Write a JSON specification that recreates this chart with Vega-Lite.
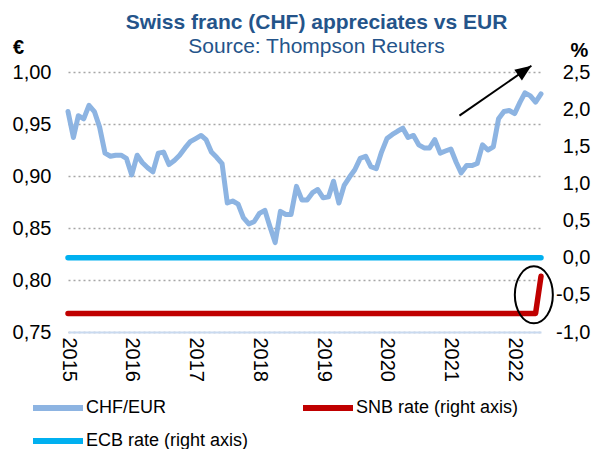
{
  "$schema": "https://vega.github.io/schema/vega-lite/v6.json",
  "width": 473,
  "height": 260,
  "padding": {"left": 12, "top": 12, "right": 11, "bottom": 0},
  "config": {
    "view": {"stroke": null},
    "font": "Liberation Sans",
    "locale": {"number": {"decimal": ",", "thousands": ".", "grouping": [3], "currency": ["", " €"], "minus": "-"}},
    "axis": {"labelFont": "Liberation Sans", "labelFontSize": 20, "labelColor": "#000000", "ticks": false, "domain": false, "grid": false, "titleFont": "Liberation Sans", "titleFontSize": 20, "titleColor": "#000000", "titleFontWeight": "bold"},
    "legend": {"labelFont": "Liberation Sans"}
  },
  "title": {
    "text": "Swiss franc (CHF) appreciates vs EUR",
    "subtitle": "Source: Thompson Reuters",
    "font": "Liberation Sans",
    "subtitleFont": "Liberation Sans",
    "fontSize": 21,
    "subtitleFontSize": 21,
    "fontWeight": "bold",
    "subtitleFontWeight": "normal",
    "color": "#24548A",
    "subtitleColor": "#24548A",
    "anchor": "middle",
    "dx": 12,
    "offset": -20,
    "subtitlePadding": 3
  },
  "encoding": {
    "x": {
      "field": "date",
      "type": "temporal",
      "scale": {"type": "utc", "domain": [{"year": 2015, "month": 1, "date": 1, "utc": true}, {"year": 2022, "month": 6, "date": 1, "utc": true}], "nice": false},
      "axis": {"format": "%Y", "labelAngle": 90, "labelPadding": 5, "tickCount": {"interval": "year", "step": 1}, "domain": true, "domainColor": "#C9DAF0", "domainWidth": 2, "grid": false, "ticks": false, "title": null, "labelFlush": false, "labelOverlap": false, "zindex": 1}
    }
  },
  "layer": [
    {
      "encoding": {
        "y": {"field": "v", "type": "quantitative", "scale": {"domain": [0.75, 1.0], "nice": false, "zero": false},
          "axis": {"orient": "left", "values": [0.75, 0.8, 0.85, 0.9, 0.95, 1.0], "format": ".2f", "grid": true, "gridDash": [2, 3], "gridColor": "#A6A6A6", "gridWidth": 1.5, "labelPadding": 17, "title": "€", "titleAngle": 0, "titleX": -50, "titleY": -25, "titleAlign": "center", "titleBaseline": "middle"}}
      },
      "layer": [
        {
          "data": {"values": [
            {"date": "2015-01-01", "v": 0.962, "series": "CHF/EUR"},
            {"date": "2015-02-01", "v": 0.937, "series": "CHF/EUR"},
            {"date": "2015-03-01", "v": 0.958, "series": "CHF/EUR"},
            {"date": "2015-04-01", "v": 0.955, "series": "CHF/EUR"},
            {"date": "2015-05-01", "v": 0.968, "series": "CHF/EUR"},
            {"date": "2015-06-01", "v": 0.962, "series": "CHF/EUR"},
            {"date": "2015-07-01", "v": 0.947, "series": "CHF/EUR"},
            {"date": "2015-08-01", "v": 0.922, "series": "CHF/EUR"},
            {"date": "2015-09-01", "v": 0.919, "series": "CHF/EUR"},
            {"date": "2015-10-01", "v": 0.920, "series": "CHF/EUR"},
            {"date": "2015-11-01", "v": 0.920, "series": "CHF/EUR"},
            {"date": "2015-12-01", "v": 0.917, "series": "CHF/EUR"},
            {"date": "2016-01-01", "v": 0.901, "series": "CHF/EUR"},
            {"date": "2016-02-01", "v": 0.920, "series": "CHF/EUR"},
            {"date": "2016-03-01", "v": 0.913, "series": "CHF/EUR"},
            {"date": "2016-04-01", "v": 0.908, "series": "CHF/EUR"},
            {"date": "2016-05-01", "v": 0.904, "series": "CHF/EUR"},
            {"date": "2016-06-01", "v": 0.922, "series": "CHF/EUR"},
            {"date": "2016-07-01", "v": 0.923, "series": "CHF/EUR"},
            {"date": "2016-08-01", "v": 0.911, "series": "CHF/EUR"},
            {"date": "2016-09-01", "v": 0.915, "series": "CHF/EUR"},
            {"date": "2016-10-01", "v": 0.920, "series": "CHF/EUR"},
            {"date": "2016-11-01", "v": 0.927, "series": "CHF/EUR"},
            {"date": "2016-12-01", "v": 0.933, "series": "CHF/EUR"},
            {"date": "2017-01-01", "v": 0.936, "series": "CHF/EUR"},
            {"date": "2017-02-01", "v": 0.939, "series": "CHF/EUR"},
            {"date": "2017-03-01", "v": 0.935, "series": "CHF/EUR"},
            {"date": "2017-04-01", "v": 0.923, "series": "CHF/EUR"},
            {"date": "2017-05-01", "v": 0.918, "series": "CHF/EUR"},
            {"date": "2017-06-01", "v": 0.912, "series": "CHF/EUR"},
            {"date": "2017-07-01", "v": 0.874, "series": "CHF/EUR"},
            {"date": "2017-08-01", "v": 0.876, "series": "CHF/EUR"},
            {"date": "2017-09-01", "v": 0.873, "series": "CHF/EUR"},
            {"date": "2017-10-01", "v": 0.860, "series": "CHF/EUR"},
            {"date": "2017-11-01", "v": 0.854, "series": "CHF/EUR"},
            {"date": "2017-12-01", "v": 0.856, "series": "CHF/EUR"},
            {"date": "2018-01-01", "v": 0.864, "series": "CHF/EUR"},
            {"date": "2018-02-01", "v": 0.867, "series": "CHF/EUR"},
            {"date": "2018-03-01", "v": 0.852, "series": "CHF/EUR"},
            {"date": "2018-04-01", "v": 0.836, "series": "CHF/EUR"},
            {"date": "2018-05-01", "v": 0.866, "series": "CHF/EUR"},
            {"date": "2018-06-01", "v": 0.863, "series": "CHF/EUR"},
            {"date": "2018-07-01", "v": 0.863, "series": "CHF/EUR"},
            {"date": "2018-08-01", "v": 0.890, "series": "CHF/EUR"},
            {"date": "2018-09-01", "v": 0.877, "series": "CHF/EUR"},
            {"date": "2018-10-01", "v": 0.877, "series": "CHF/EUR"},
            {"date": "2018-11-01", "v": 0.884, "series": "CHF/EUR"},
            {"date": "2018-12-01", "v": 0.887, "series": "CHF/EUR"},
            {"date": "2019-01-01", "v": 0.879, "series": "CHF/EUR"},
            {"date": "2019-02-01", "v": 0.880, "series": "CHF/EUR"},
            {"date": "2019-03-01", "v": 0.895, "series": "CHF/EUR"},
            {"date": "2019-04-01", "v": 0.874, "series": "CHF/EUR"},
            {"date": "2019-05-01", "v": 0.891, "series": "CHF/EUR"},
            {"date": "2019-06-01", "v": 0.899, "series": "CHF/EUR"},
            {"date": "2019-07-01", "v": 0.906, "series": "CHF/EUR"},
            {"date": "2019-08-01", "v": 0.917, "series": "CHF/EUR"},
            {"date": "2019-09-01", "v": 0.919, "series": "CHF/EUR"},
            {"date": "2019-10-01", "v": 0.909, "series": "CHF/EUR"},
            {"date": "2019-11-01", "v": 0.907, "series": "CHF/EUR"},
            {"date": "2019-12-01", "v": 0.923, "series": "CHF/EUR"},
            {"date": "2020-01-01", "v": 0.936, "series": "CHF/EUR"},
            {"date": "2020-02-01", "v": 0.940, "series": "CHF/EUR"},
            {"date": "2020-03-01", "v": 0.943, "series": "CHF/EUR"},
            {"date": "2020-04-01", "v": 0.946, "series": "CHF/EUR"},
            {"date": "2020-05-01", "v": 0.937, "series": "CHF/EUR"},
            {"date": "2020-06-01", "v": 0.939, "series": "CHF/EUR"},
            {"date": "2020-07-01", "v": 0.930, "series": "CHF/EUR"},
            {"date": "2020-08-01", "v": 0.927, "series": "CHF/EUR"},
            {"date": "2020-09-01", "v": 0.927, "series": "CHF/EUR"},
            {"date": "2020-10-01", "v": 0.935, "series": "CHF/EUR"},
            {"date": "2020-11-01", "v": 0.922, "series": "CHF/EUR"},
            {"date": "2020-12-01", "v": 0.924, "series": "CHF/EUR"},
            {"date": "2021-01-01", "v": 0.926, "series": "CHF/EUR"},
            {"date": "2021-02-01", "v": 0.913, "series": "CHF/EUR"},
            {"date": "2021-03-01", "v": 0.903, "series": "CHF/EUR"},
            {"date": "2021-04-01", "v": 0.910, "series": "CHF/EUR"},
            {"date": "2021-05-01", "v": 0.910, "series": "CHF/EUR"},
            {"date": "2021-06-01", "v": 0.912, "series": "CHF/EUR"},
            {"date": "2021-07-01", "v": 0.930, "series": "CHF/EUR"},
            {"date": "2021-08-01", "v": 0.925, "series": "CHF/EUR"},
            {"date": "2021-09-01", "v": 0.928, "series": "CHF/EUR"},
            {"date": "2021-10-01", "v": 0.955, "series": "CHF/EUR"},
            {"date": "2021-11-01", "v": 0.962, "series": "CHF/EUR"},
            {"date": "2021-12-01", "v": 0.963, "series": "CHF/EUR"},
            {"date": "2022-01-01", "v": 0.960, "series": "CHF/EUR"},
            {"date": "2022-02-01", "v": 0.971, "series": "CHF/EUR"},
            {"date": "2022-03-01", "v": 0.980, "series": "CHF/EUR"},
            {"date": "2022-04-01", "v": 0.977, "series": "CHF/EUR"},
            {"date": "2022-05-01", "v": 0.971, "series": "CHF/EUR"},
            {"date": "2022-06-01", "v": 0.979, "series": "CHF/EUR"}
          ]},
          "mark": {"type": "line", "strokeWidth": 5, "strokeJoin": "round", "strokeCap": "round"},
          "encoding": {
            "color": {"field": "series", "type": "nominal",
              "scale": {"domain": ["CHF/EUR", "SNB rate (right axis)", "ECB rate (right axis)"], "range": ["#8DB4E2", "#C00000", "#00B0F0"]},
              "legend": {"orient": "none", "legendX": -23, "legendY": 323, "columns": 2, "direction": "horizontal", "symbolType": "M-2.5,0 L2.5,0", "symbolSize": 400, "symbolStrokeWidth": 6, "labelFontSize": 18, "labelColor": "#000000", "labelOffset": 15, "columnPadding": 42, "rowPadding": 8, "title": null, "padding": 0, "labelLimit": 400}
            }
          }
        },
        {
          "data": {"values": [{"date": "2021-02-19", "v": 0.958, "date2": "2022-04-07", "v2": 1.006}]},
          "mark": {"type": "rule", "color": "#000000", "strokeWidth": 2},
          "encoding": {"x2": {"field": "date2"}, "y2": {"field": "v2"}}
        },
        {
          "data": {"values": [{"date": "2022-04-07", "v": 1.006}]},
          "mark": {"type": "point", "shape": "M0,0 L0.55,1.35 L-0.55,1.35 Z", "size": 576, "angle": 55, "filled": true, "color": "#000000", "opacity": 1, "strokeWidth": 0},
          "encoding": {}
        }
      ]
    },
    {
      "encoding": {
        "y": {"field": "r", "type": "quantitative", "scale": {"domain": [-1, 2.5], "nice": false, "zero": false},
          "axis": {"orient": "right", "values": [-1, -0.5, 0, 0.5, 1, 1.5, 2, 2.5], "format": ".1f", "grid": false, "labelAlign": "right", "labelPadding": 49, "title": "%", "titleAngle": 0, "titleX": 38, "titleY": -22, "titleAlign": "center", "titleBaseline": "middle"}}
      },
      "layer": [
        {
          "data": {"values": [
            {"date": "2015-01-01", "r": 0.0, "series": "ECB rate (right axis)"},
            {"date": "2022-06-01", "r": 0.0, "series": "ECB rate (right axis)"},
            {"date": "2015-01-01", "r": -0.75, "series": "SNB rate (right axis)"},
            {"date": "2022-05-01", "r": -0.75, "series": "SNB rate (right axis)"},
            {"date": "2022-06-01", "r": -0.25, "series": "SNB rate (right axis)"}
          ]},
          "mark": {"type": "line", "strokeWidth": 5.5, "strokeCap": "round", "strokeJoin": "round"},
          "encoding": {
            "color": {"field": "series", "type": "nominal"}
          }
        },
        {
          "data": {"values": [{"date": "2022-04-21", "r": -0.5}]},
          "mark": {"type": "point", "shape": "M-0.667,0 A0.667,1 0 1,1 0.667,0 A0.667,1 0 1,1 -0.667,0 Z", "size": 3249, "filled": false, "color": "#000000", "strokeWidth": 2, "opacity": 1},
          "encoding": {}
        }
      ]
    }
  ],
  "resolve": {"scale": {"y": "independent"}}
}
